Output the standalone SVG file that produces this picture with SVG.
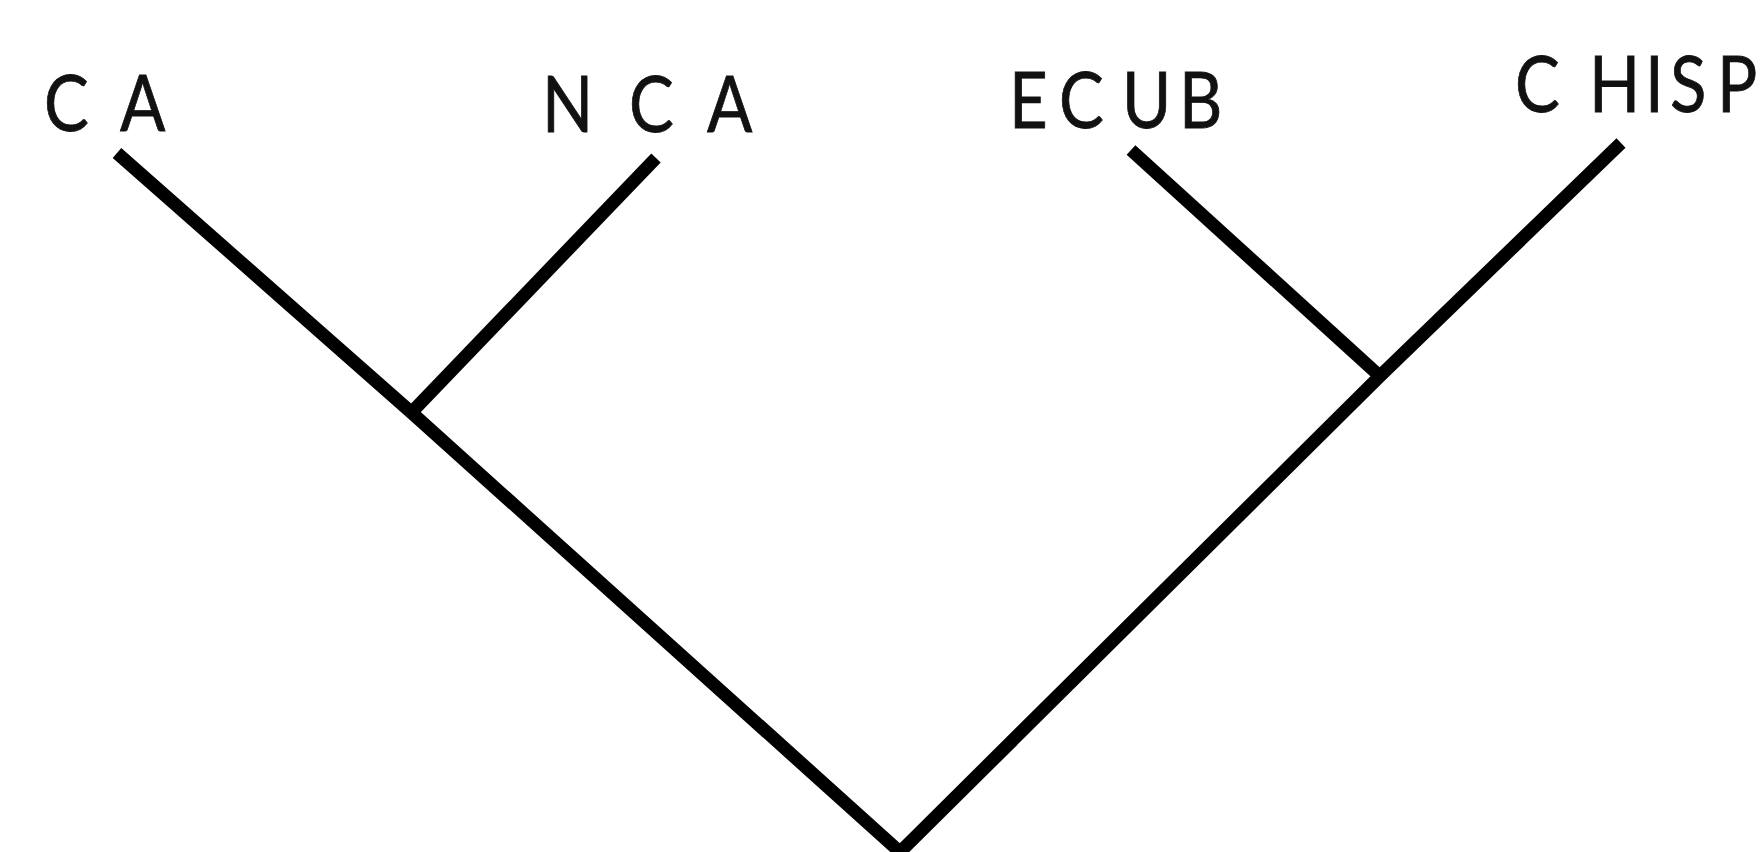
<svg xmlns="http://www.w3.org/2000/svg" width="1761" height="852" viewBox="0 0 1761 852">
<style>
.lbl{font-family:"Lato","Open Sans","Liberation Sans",sans-serif;font-size:78px;fill:#111;stroke:#111;stroke-width:0.8}
.br{fill:none;stroke:#000;stroke-width:13;stroke-linejoin:miter;stroke-miterlimit:10}
</style>
<rect width="1761" height="852" fill="#fff"/>
<g id="connectors">
<polyline class="br" points="117,153 412,413 900,852"/>
<line class="br" x1="656" y1="158" x2="410" y2="414"/>
<line class="br" x1="1131" y1="150" x2="1383" y2="379"/>
<polyline class="br" points="1621,143 1380,376 900,852"/>
</g>
<g id="node-CA" transform="matrix(0.86 0 0 1 44 0)"><text class="lbl" x="0 88.4" y="131">CA</text></g>
<g id="node-NCA" transform="matrix(0.86 0 0 1 542 0)"><text class="lbl" x="0 101.2 191.9" y="132">NCA</text></g>
<g id="node-ECUB" transform="matrix(0.86 0 0 1 1009 0)"><text class="lbl" x="0 58.1 131.4 197.7" y="128">ECUB</text></g>
<g id="node-CHISP" transform="matrix(0.86 0 0 1 1515 0)"><text class="lbl" x="0 86 151.2 180.2 234.9" y="112">CHISP</text></g>
</svg>
